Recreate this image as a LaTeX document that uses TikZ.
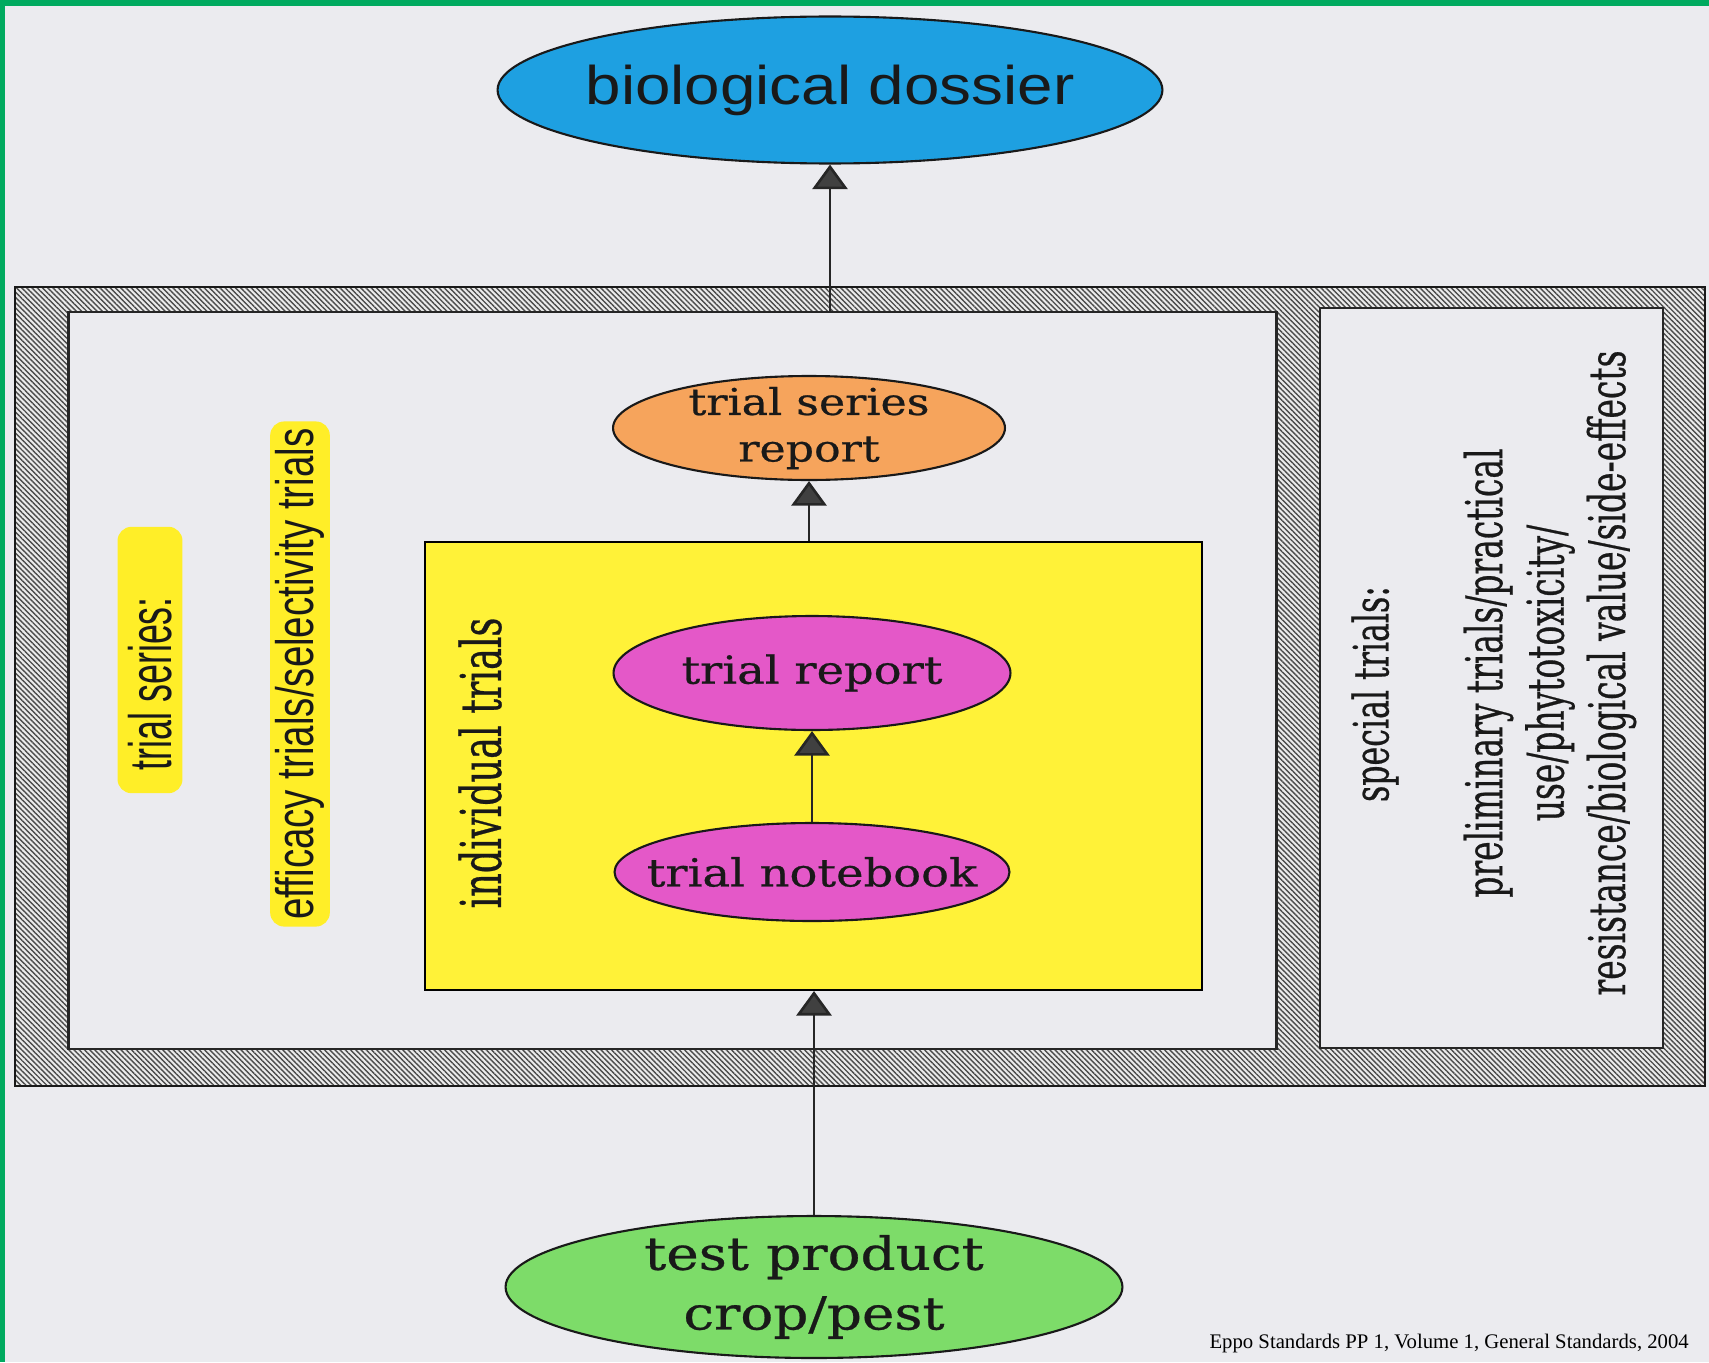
\documentclass[tikz,border=0pt]{standalone}
\usepackage{fontspec}
\newfontfamily\serifwide[FakeStretch=1.2,FakeBold=0.6]{DejaVu Serif}
\newfontfamily\seriftall[FakeStretch=0.65,FakeBold=0.5]{DejaVu Serif}
\newfontfamily\sanswide[FakeStretch=1.17]{Liberation Sans}
\newfontfamily\sanstall[FakeStretch=0.73]{Liberation Sans}
\newfontfamily\sansnarrow[FakeStretch=0.6]{Liberation Sans}
\newfontfamily\footfont{Liberation Serif}
\usetikzlibrary{shapes.geometric,arrows.meta,patterns.meta}
\definecolor{paper}{RGB}{235,235,239}
\definecolor{edge}{RGB}{0,170,95}
\definecolor{sky}{RGB}{30,160,225}
\definecolor{peach}{RGB}{246,164,92}
\definecolor{orchid}{RGB}{228,88,200}
\definecolor{lemon}{RGB}{255,242,56}
\definecolor{hilite}{RGB}{255,238,40}
\definecolor{leaf}{RGB}{125,220,105}

\begin{document}
\begin{tikzpicture}[x=0.02cm, y=-0.02cm,
      bubble/.style = {shape=ellipse, draw=black!90, line width=1.2pt,
        inner xsep=-16pt, inner ysep=-5pt, align=center, text=black!90},
      panel/.style = {shape=rectangle, draw=black!85, line width=1.6pt, fill=paper},
      flow/.style = {draw=black!85, line width=1.5pt,
        -{Triangle[width=20pt,length=14pt,fill=black!75]}},
      upright/.style = {rotate=90, align=center, text=black!90},
      marker/.style = {fill=hilite, rounded corners=8pt}]
  \useasboundingbox (0,0) rectangle (1709,1362);
  \fill[paper] (0,0) rectangle (1709,1362);
  \fill[edge] (0,0) rectangle (1709,6);
  \fill[edge] (0,0) rectangle (5,1362);

  \node[draw=black!90, line width=1.2pt, minimum width=33.8cm, minimum height=15.98cm,
    preaction={fill=black!8}, pattern={Lines[angle=-45,distance=2.1pt,line width=0.8pt]},
    pattern color=black!70] (frame) at (860,686.5) {};
  \node[panel, minimum width=24.18cm, minimum height=14.74cm] (series) at (672.5,680.5) {};
  \node[panel, minimum width=6.86cm, minimum height=14.8cm] (special) at (1491.5,678) {};
  \node[draw=black, line width=1.2pt, fill=lemon, minimum width=15.54cm,
    minimum height=8.96cm] (individual) at (813.5,766) {};

  \node[bubble, fill=sky, minimum width=13.3cm, minimum height=2.94cm,
    font=\sanswide\fontsize{31}{36}\selectfont] (dossier) at (830,90) {biological dossier};
  \node[bubble, fill=peach, minimum width=7.84cm, minimum height=2.08cm,
    font=\serifwide\fontsize{21}{26.5}\selectfont] (seriesreport) at (809,428) {trial series\\report};
  \node[bubble, fill=orchid, minimum width=7.94cm, minimum height=2.28cm,
    font=\serifwide\fontsize{22}{26}\selectfont] (report) at (812,673) {trial report};
  \node[bubble, fill=orchid, minimum width=7.9cm, minimum height=1.96cm,
    font=\serifwide\fontsize{22}{26}\selectfont] (notebook) at (812,872) {trial notebook};
  \node[bubble, fill=leaf, minimum width=12.34cm, minimum height=2.84cm,
    font=\serifwide\fontsize{26}{34}\selectfont] (product) at (814,1287) {test product\\crop/pest};

  \node[upright, marker, inner xsep=13pt, inner ysep=6pt,
    font=\sansnarrow\fontsize{34}{40}\selectfont] (serieslabel) at (150,660) {trial series:\rule{27pt}{0pt}};
  \node[upright, marker, inner xsep=4pt, inner ysep=3pt,
    font=\sanstall\fontsize{30}{36}\selectfont] (kinds) at (300,674) {efficacy trials/selectivity trials};
  \node[upright, font=\seriftall\fontsize{32}{36}\selectfont] (individuallabel) at (480,763) {individual trials};
  \node[upright, font=\seriftall\fontsize{27.7}{32}\selectfont] (speciallabel) at (1375,694) {special trials:};
  \node[upright, font=\seriftall\fontsize{28.8}{35}\selectfont] (speciallist) at (1550,673)
    {preliminary trials/practical\\use/phytotoxicity/\\resistance/biological value/side-effects};
  \node[anchor=east, font=\footfont\fontsize{11.8}{14}\selectfont] (source) at (1695,1343)
    {Eppo Standards PP 1, Volume 1, General Standards, 2004};

  \draw[flow] (series.north -| dossier.south) -- (dossier.south);
  \draw[flow] (individual.north -| seriesreport.south) -- (seriesreport.south);
  \draw[flow] (notebook.north) -- (report.south);
  \draw[flow] (product.north) -- (product.north |- individual.south);
\end{tikzpicture}
\end{document}
